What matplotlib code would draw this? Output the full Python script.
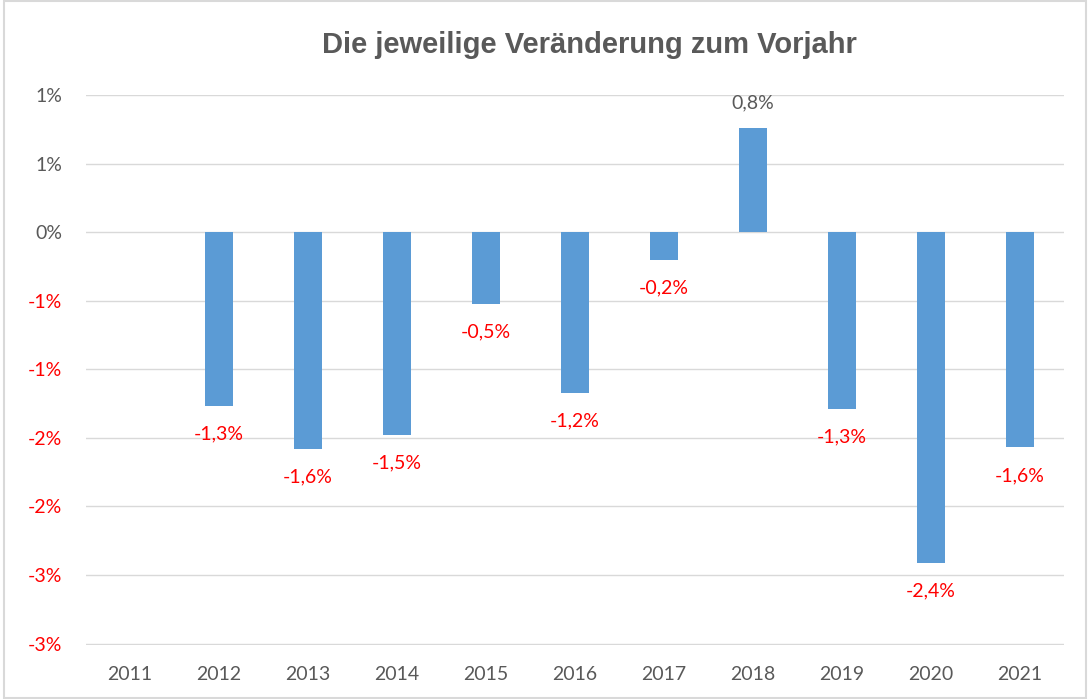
import matplotlib.pyplot as plt
from matplotlib.ticker import FuncFormatter, MultipleLocator
from matplotlib.patches import Rectangle

years = ["2011", "2012", "2013", "2014", "2015", "2016", "2017", "2018", "2019", "2020", "2021"]
changes = [None, -1.27, -1.58, -1.48, -0.52, -1.17, -0.20, 0.76, -1.29, -2.41, -1.57]
labels = [None, "-1,3%", "-1,6%", "-1,5%", "-0,5%", "-1,2%", "-0,2%", "0,8%", "-1,3%", "-2,4%", "-1,6%"]

grey = "#595959"
red = "#FF0000"
plt.rcParams['font.family'] = ['Lato', 'DejaVu Sans']

fig = plt.figure(figsize=(10.88, 6.99), dpi=100)
ax = fig.add_axes([0.0786, 0.0773, 0.8998, 0.7867])

x = list(range(len(years)))
vals = [v if v is not None else 0 for v in changes]
ax.bar(x, vals, width=0.31, color="#5B9BD5", zorder=3)

for i, (v, lab) in enumerate(zip(changes, labels)):
    if v is None:
        continue
    if v < 0:
        ax.annotate(lab, (i, v), xytext=(0, -14), textcoords="offset points",
                    ha="center", va="top", color=red, fontsize=14)
    else:
        ax.annotate(lab, (i, v), xytext=(0, 12), textcoords="offset points",
                    ha="center", va="bottom", color=grey, fontsize=14)

ax.set_xlim(-0.5, len(years) - 0.5)
ax.set_ylim(-3.01, 1.0)
ax.yaxis.set_major_locator(MultipleLocator(0.5))
ax.yaxis.set_major_formatter(FuncFormatter(lambda v, p: "%d%%" % round(v + (0.001 if v > 0 else -0.001))))
ax.set_xticks(x)
ax.set_xticklabels(years)
ax.grid(axis="y", color="#D9D9D9", linewidth=1, zorder=0)
for s in ax.spines.values():
    s.set_visible(False)
ax.tick_params(length=0, colors=grey, labelsize=14)
ax.tick_params(axis="y", pad=17)
ax.tick_params(axis="x", pad=15)
fig.canvas.draw()
for t in ax.get_yticklabels():
    if t.get_text().startswith("-"):
        t.set_color(red)

fig.text(0.542, 0.935, "Die jeweilige Veränderung zum Vorjahr", ha="center", va="center",
         fontsize=21, fontweight="bold", color=grey, family="Liberation Sans")
fig.patches.append(Rectangle((0.004, 0.002), 0.994, 0.996, transform=fig.transFigure,
                             fill=False, edgecolor="#D9D9D9", linewidth=1.5))

fig.savefig("out.png", dpi=100)
